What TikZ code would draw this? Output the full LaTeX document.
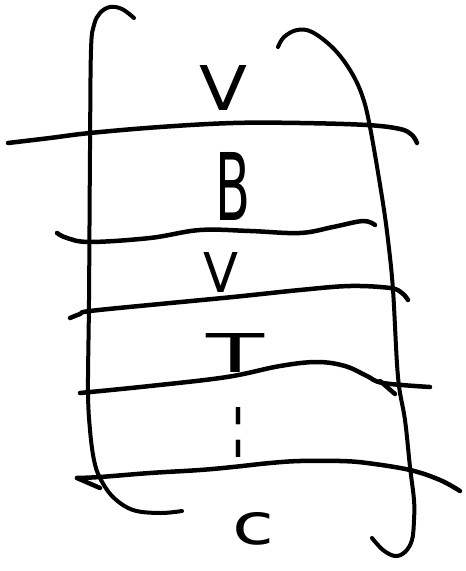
\documentclass[tikz,border=0pt]{standalone}
\usepackage{fontspec}
\setmainfont{DejaVu Sans}
\usepackage{graphicx}
\tikzset{
  ink/.style={line width=4.5pt, line cap=round, line join=round, black},
  bracketink/.style={line width=4pt, line cap=round, line join=round, black},
  letter/.style={inner sep=0pt, outer sep=0pt}
}
\begin{document}
\begin{tikzpicture}[x=1pt,y=-1pt]
\useasboundingbox (0,0) rectangle (466,571);
% brackets
\draw[bracketink] plot[smooth, tension=0.6] coordinates {(134,18) (122,9) (110,7) (100,13) (94,25) (91,50) (90,150) (89,300) (88,390) (90,430) (94,460) (100,478) (113,497) (133,510) (160,513) (182,511)};
\draw[bracketink] plot[smooth, tension=0.6] coordinates {(278,47) (284,37) (297,30) (312,32) (333,48) (350,70) (362,95) (370,127) (382,197) (388,240) (393,290) (398,377) (405,420) (410,467) (414,500) (414,520) (412,540) (405,552) (395,556) (383,550) (372,538)};
% horizontal strokes
\draw[ink] plot[smooth, tension=0.6] coordinates {(8,143) (50,138) (90,133) (160,127) (233,123) (300,123) (367,125) (400,129) (412,135) (417,143)};
\draw[ink] plot[smooth, tension=0.6] coordinates {(57,233) (67,238) (90,242) (150,238) (200,230) (250,231) (300,233) (333,227) (363,221) (375,225)};
\draw[ink] plot[smooth, tension=0.6] coordinates {(70,318) (80,314) (90,311) (160,304) (233,297) (300,290) (350,286) (390,288) (402,293) (408,300)};
\draw[ink] plot[smooth, tension=0.6] coordinates {(80,393) (150,386) (227,377) (280,366) (317,362) (345,366) (367,376) (383,383) (430,387)};
\draw[ink] (380,381) -- (395,394);
\draw[ink] (100,488) -- (77,478);
\draw[ink] plot[smooth, tension=0.6] coordinates {(77,478) (100,477) (150,473) (200,470) (233,467) (270,463) (300,461) (340,461) (367,463) (410,470) (440,480) (460,491)};
% letters
\node[letter] (v1) at (224,88) {\resizebox{48pt}{45pt}{V}};
\node[letter] (b) at (233,186) {\resizebox{35pt}{68pt}{B}};
\node[letter] (v2) at (221,272) {\resizebox{35pt}{40pt}{V}};
\node[letter] (t) at (236,353) {\resizebox{58pt}{39pt}{T}};
\node[letter] (dots) at (238,432) {\resizebox{10pt}{50pt}{\bfseries :}};
\node[letter] (c) at (254,529) {\resizebox{42pt}{32pt}{c}};
\end{tikzpicture}
\end{document}
